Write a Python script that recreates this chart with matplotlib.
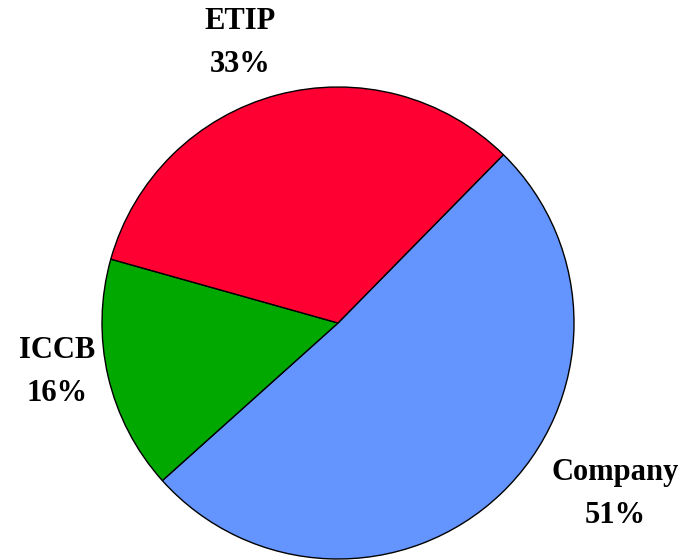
import matplotlib.pyplot as plt

# -----------------------------
# Data
# -----------------------------
names = ["Company", "ICCB", "ETIP"]
shares = [51, 16, 33]
colors = ["#6495FF", "#00A800", "#FF0033"]

# label centres in pixel coordinates (x, y from bottom)
label_pos = [(615, 66), (57, 188), (240, 517)]

W, H = 691, 560

fig = plt.figure(figsize=(W / 100, H / 100), dpi=100)
ax = fig.add_axes([0, 0, 1, 1])

ax.pie(
    shares,
    colors=colors,
    startangle=45.5,
    counterclock=False,
    center=(338, 237),
    radius=236,
    frame=True,
    wedgeprops={"edgecolor": "black", "linewidth": 1.0},
)

for name, share, (x, y) in zip(names, shares, label_pos):
    ax.text(x, y, f"{name}\n{share}%", ha="center", va="center",
            fontsize=22, fontweight="bold", family="Liberation Serif",
            linespacing=1.6)

ax.set_xlim(0, W)
ax.set_ylim(0, H)
ax.set_aspect("equal")
ax.axis("off")

fig.savefig("out.png", dpi=100)
